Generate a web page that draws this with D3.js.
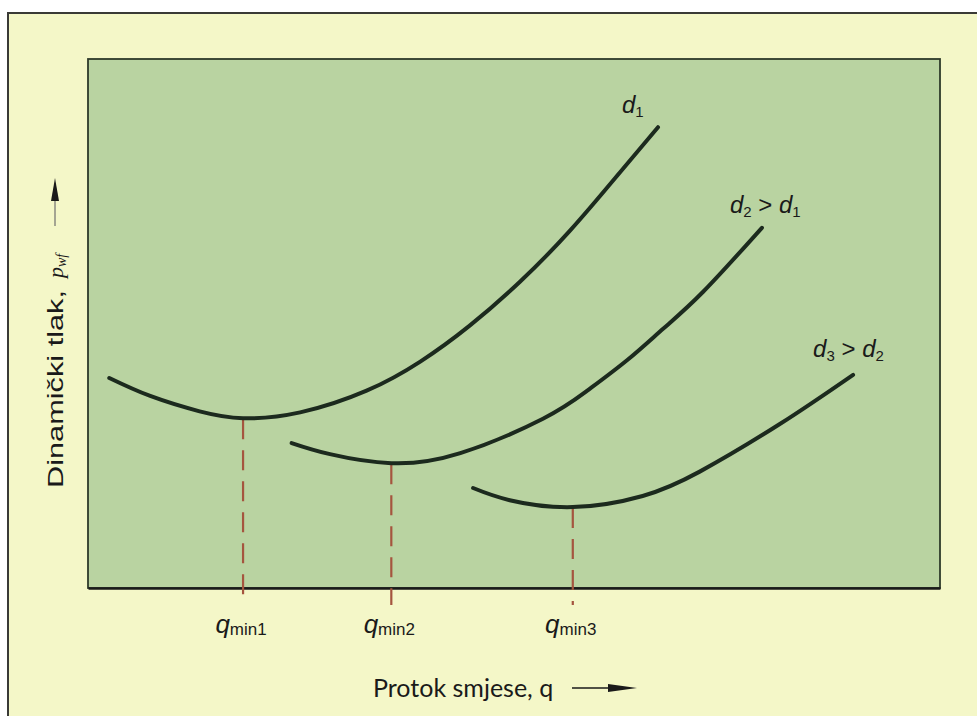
<!DOCTYPE html>
<html>
<head>
<meta charset="utf-8">
<script src="https://cdn.jsdelivr.net/npm/d3@7"></script>
<style>
  html, body { margin: 0; padding: 0; background: #ffffff; }
</style>
</head>
<body>
<div id="chart"></div>
<script>
// curve shapes (q and p in arbitrary 0-100 units)
const curve1 = [
  [2.5, 39.7], [7.3, 36.3], [13.1, 33.4], [18.2, 32.1], [24.9, 33.2], [32.7, 37.3],
  [39.0, 42.8], [44.8, 49.6], [50.7, 57.9], [56.6, 67.6], [62.4, 78.5], [66.9, 87.1]
];
const curve2 = [
  [23.9, 27.4], [28.4, 25.3], [35.6, 23.6], [43.7, 25.5], [53.4, 32.0], [58.6, 37.3],
  [63.3, 43.1], [67.5, 49.0], [72.2, 56.0], [79.1, 68.1]
];
const curve3 = [
  [45.2, 18.9], [49.5, 16.6], [56.9, 15.3], [65.1, 17.4], [71.8, 22.0], [81.2, 31.0], [89.8, 40.3]
];
const curves = [curve1, curve2, curve3];
const qMin = [18.2, 35.6, 56.9];
const qMinLabels = ['min1', 'min2', 'min3'];
const curveLabels = [['1', null], ['2', '1'], ['3', '2']];

const width = 977;
const height = 716;
const panel = { left: 88, right: 940, top: 59, bottom: 588 };

const svg = d3.select('#chart').append('svg').attr('width', width).attr('height', height);

// page background + frame
svg.append('rect').attr('x', 0).attr('y', 0).attr('width', width).attr('height', height).attr('fill', '#ffffff');
svg.append('rect').attr('x', 8).attr('y', 13).attr('width', width).attr('height', height)
  .attr('fill', '#f4f7c8').attr('stroke', '#3a3a36').attr('stroke-width', 2);

const x = d3.scaleLinear().domain([0, 100]).range([panel.left, panel.right]);
const y = d3.scaleLinear().domain([0, 100]).range([panel.bottom, panel.top]);

svg.append('rect')
  .attr('x', panel.left).attr('y', panel.top)
  .attr('width', panel.right - panel.left).attr('height', panel.bottom - panel.top)
  .attr('fill', '#b9d3a1').attr('stroke', '#2e3a2a').attr('stroke-width', 1.8);

// bottom axis line
svg.append('g').attr('transform', `translate(0, ${panel.bottom})`)
  .call(d3.axisBottom(x).tickValues([]).tickSizeOuter(0))
  .call((g) => g.select('.domain').attr('stroke', '#1a1a1a').attr('stroke-width', 2.5));

// dashed q_min drop lines
const minOf = (c) => d3.min(c, (d) => d[1]);
svg.selectAll('.qline')
  .data(qMin)
  .enter()
  .append('line')
  .attr('class', 'qline')
  .attr('x1', (d) => x(d)).attr('x2', (d) => x(d))
  .attr('y1', (d, i) => y(minOf(curves[i])) + 1)
  .attr('y2', panel.bottom + 17)
  .attr('stroke', '#a5553f')
  .attr('stroke-width', 2.2)
  .attr('stroke-dasharray', '20,11');

// curves
const line = d3.line().x((d) => x(d[0])).y((d) => y(d[1])).curve(d3.curveNatural);
svg.selectAll('.curve')
  .data(curves)
  .enter()
  .append('path')
  .attr('class', 'curve')
  .attr('d', line)
  .attr('fill', 'none')
  .attr('stroke', '#1c2a1e')
  .attr('stroke-width', 4)
  .attr('stroke-linecap', 'round');

// curve labels d1, d2 > d1, d3 > d2
const font = "'Liberation Sans', Arial, sans-serif";
const labelOffset = [[-36, -14], [-32, -15], [-40, -18]];
curveLabels.forEach((lab, i) => {
  const end = curves[i][curves[i].length - 1];
  const t = svg.append('text')
    .attr('x', x(end[0]) + labelOffset[i][0])
    .attr('y', y(end[1]) + labelOffset[i][1])
    .attr('font-family', font).attr('font-size', 24).attr('fill', '#1a1a1a');
  t.append('tspan').attr('font-style', 'italic').text('d');
  t.append('tspan').attr('font-size', 15).attr('dy', 4).text(lab[0]);
  if (lab[1]) {
    t.append('tspan').attr('dy', -4).text(' > ');
    t.append('tspan').attr('font-style', 'italic').text('d');
    t.append('tspan').attr('font-size', 15).attr('dy', 4).text(lab[1]);
  }
});

// q_min tick labels
qMin.forEach((q, i) => {
  const t = svg.append('text')
    .attr('x', x(q) - 2).attr('y', panel.bottom + 45)
    .attr('text-anchor', 'middle')
    .attr('font-family', font).attr('fill', '#1a1a1a');
  t.append('tspan').attr('font-size', 26).attr('font-style', 'italic').text('q');
  t.append('tspan').attr('font-size', 17).attr('dy', 2).text(qMinLabels[i]);
});

// x axis title with arrow
svg.append('text')
  .attr('x', 373).attr('y', 697)
  .attr('font-family', "Lato, 'Open Sans', sans-serif").attr('font-size', 25).attr('fill', '#1a1a1a')
  .text('Protok smjese, q');
svg.append('line').attr('x1', 572).attr('x2', 612).attr('y1', 688).attr('y2', 688)
  .attr('stroke', '#1a1a1a').attr('stroke-width', 1.6);
svg.append('path').attr('d', 'M608,684 L637,688 L608,692 Z').attr('fill', '#1a1a1a');

// y axis title with arrow
const yt = svg.append('text')
  .attr('transform', 'translate(63, 488) rotate(-90)')
  .attr('font-family', font).attr('font-size', 22).attr('fill', '#1a1a1a');
yt.append('tspan').attr('textLength', 198).attr('lengthAdjust', 'spacingAndGlyphs').text('Dinamički tlak,');
yt.append('tspan').attr('dx', 12).attr('font-family', "'Liberation Serif', serif").attr('font-style', 'italic').text('p');
yt.append('tspan').attr('font-family', "'Liberation Serif', serif").attr('font-style', 'italic')
  .attr('font-size', 14).attr('dy', 3).text('wf');
svg.append('line').attr('x1', 55).attr('x2', 55).attr('y1', 226).attr('y2', 195)
  .attr('stroke', '#8a8a80').attr('stroke-width', 1.5);
svg.append('path').attr('d', 'M51,201 L55,178 L59,201 Z').attr('fill', '#1a1a1a');
</script>
</body>
</html>
